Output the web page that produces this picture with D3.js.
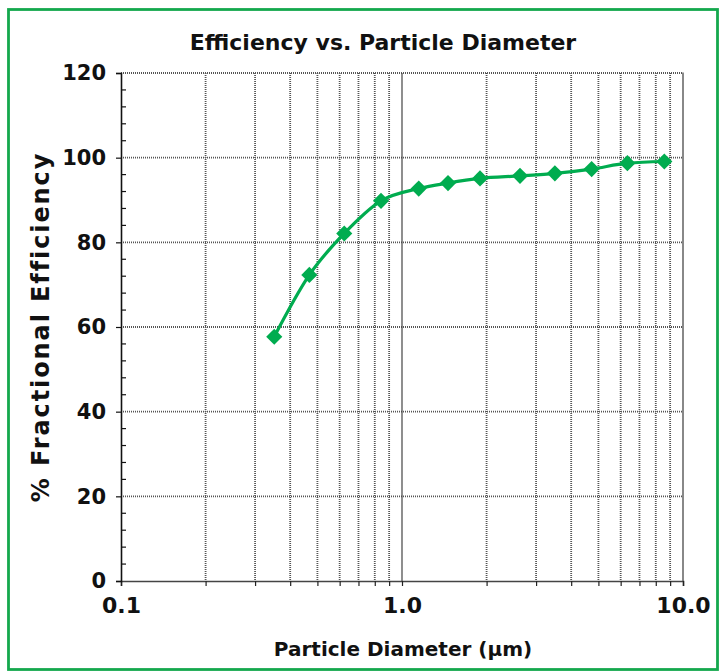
<!DOCTYPE html>
<html>
<head>
<meta charset="utf-8">
<script src="https://cdn.jsdelivr.net/npm/d3@7"></script>
<style>
  html, body { margin: 0; padding: 0; background: #fff; }
  svg { display: block; }
  text { font-family: "DejaVu Sans", sans-serif; font-weight: bold; fill: #111; }
</style>
</head>
<body>
<svg id="chart" width="725" height="671"></svg>
<script>
// Particle diameter (µm) and fractional efficiency (%)
const diameters = [0.351, 0.468, 0.623, 0.842, 1.147, 1.458, 1.895, 2.63, 3.50, 4.73, 6.34, 8.58];
const efficiency = [57.7, 72.3, 82.1, 89.8, 92.7, 94.0, 95.1, 95.7, 96.3, 97.3, 98.7, 99.1];

const xMajorTicks = [0.1, 1, 10];
const xTickLabels = ["0.1", "1.0", "10.0"];
const yMajorTicks = [0, 20, 40, 60, 80, 100, 120];

const title = "Efficiency vs. Particle Diameter";
const xTitle = "Particle Diameter (µm)";
const yTitle = "% Fractional Efficiency";

const svg = d3.select("#chart");
const green = "#00ac4f";

// outer frame
svg.append("rect")
  .attr("x", 8.5).attr("y", 9.5).attr("width", 709).attr("height", 660)
  .attr("fill", "none").attr("stroke", "#14a84d").attr("stroke-width", 2.8);

const plotL = 121, plotR = 683, plotT = 73, plotB = 581;

const x = d3.scaleLog().domain([0.1, 10]).range([plotL, plotR]);
const y = d3.scaleLinear().domain([0, 120]).range([plotB, plotT]);

// minor log positions: 0.2..0.9, 2..9
const xMinor = [];
[0.1, 1].forEach(d => { for (let k = 2; k <= 9; k++) xMinor.push(+(d * k).toFixed(2)); });
const yMinor = d3.range(0, 121, 4).filter(v => v % 20 !== 0);

const grid = svg.append("g");

// dotted vertical gridlines at minor log positions
grid.selectAll("line.vx").data(xMinor).join("line")
  .attr("x1", d => x(d)).attr("x2", d => x(d))
  .attr("y1", plotT).attr("y2", plotB)
  .attr("stroke", "#555").attr("stroke-width", 1.8).attr("stroke-dasharray", "1,1");

// dotted horizontal gridlines at major y ticks
grid.selectAll("line.hy").data(yMajorTicks.filter(v => v > 0)).join("line")
  .attr("x1", plotL).attr("x2", plotR)
  .attr("y1", d => y(d)).attr("y2", d => y(d))
  .attr("stroke", "#555").attr("stroke-width", 1.8).attr("stroke-dasharray", "1,1");

// solid line at the 1.0 decade
grid.append("line")
  .attr("x1", x(1)).attr("x2", x(1)).attr("y1", plotT).attr("y2", plotB)
  .attr("stroke", "#444").attr("stroke-width", 1.2);

// right edge of plot
grid.append("line")
  .attr("x1", plotR).attr("x2", plotR).attr("y1", plotT - 0.5).attr("y2", plotB)
  .attr("stroke", "#888").attr("stroke-width", 2);

// x axis (bottom) with downward ticks at every log position
const xAxis = d3.axisBottom(x)
  .tickValues(xMajorTicks.concat(xMinor))
  .tickSize(5)
  .tickFormat(d => { const i = xMajorTicks.indexOf(d); return i >= 0 ? xTickLabels[i] : ""; });

const gx = svg.append("g").attr("transform", `translate(0,${plotB})`).call(xAxis);
gx.select(".domain").attr("stroke", "#444").attr("stroke-width", 1.6);
gx.selectAll(".tick line").attr("stroke", "#222").attr("stroke-width", 1.2);
gx.selectAll(".tick text")
  .attr("y", 16).attr("dy", "0.71em")
  .style("font-family", "DejaVu Sans, sans-serif").style("font-weight", "bold")
  .style("font-size", "22px").attr("fill", "#111");

// y axis: major ticks point left, minor ticks point right
const yAxis = d3.axisLeft(y).tickValues(yMajorTicks).tickSize(5).tickPadding(10);
const gy = svg.append("g").attr("transform", `translate(${plotL},0)`).call(yAxis);
gy.select(".domain").attr("stroke", "#111").attr("stroke-width", 1.6);
gy.selectAll(".tick line").attr("stroke", "#111").attr("stroke-width", 1.2);
gy.selectAll(".tick text")
  .style("font-family", "DejaVu Sans, sans-serif").style("font-weight", "bold")
  .style("font-size", "21px").attr("fill", "#111");

svg.append("g").selectAll("line").data(yMinor).join("line")
  .attr("x1", plotL).attr("x2", plotL + 5)
  .attr("y1", d => y(d)).attr("y2", d => y(d))
  .attr("stroke", "#111").attr("stroke-width", 1.2);

// efficiency curve
const pts = diameters.map((d, i) => [d, efficiency[i]]);
svg.append("path")
  .datum(pts)
  .attr("fill", "none").attr("stroke", green).attr("stroke-width", 3.2)
  .attr("d", d3.line().x(d => x(d[0])).y(d => y(d[1])).curve(d3.curveMonotoneX));

// diamond markers
svg.append("g").selectAll("path").data(pts).join("path")
  .attr("d", d3.symbol().type(d3.symbolSquare).size(130))
  .attr("transform", d => `translate(${x(d[0])},${y(d[1])}) rotate(45)`)
  .attr("fill", green);

// titles
svg.append("text").attr("x", 383).attr("y", 50).attr("text-anchor", "middle")
  .style("font-size", "22px").text(title);

svg.append("text").attr("x", 403).attr("y", 656).attr("text-anchor", "middle")
  .style("font-size", "20px").text(xTitle);

svg.append("text")
  .attr("transform", "translate(49,327) rotate(-90)")
  .attr("text-anchor", "middle")
  .style("font-size", "24px").style("letter-spacing", "1.9px").text(yTitle);
</script>
</body>
</html>
